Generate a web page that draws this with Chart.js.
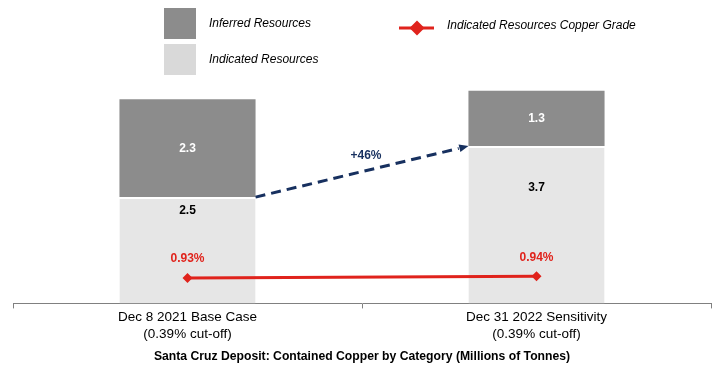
<!DOCTYPE html>
<html>
<head>
<meta charset="utf-8">
<script src="https://cdn.jsdelivr.net/npm/chart.js@4.4.0/dist/chart.umd.min.js"></script>
<style>
  html, body { margin: 0; padding: 0; background: #fff; }
  #wrap { width: 722px; height: 370px; position: relative; }
</style>
</head>
<body>
<div id="wrap"><canvas id="chart"></canvas></div>
<script>
// Datos
const categories = [
    ['Dec 8 2021 Base Case', '(0.39% cut-off)'],
    ['Dec 31 2022 Sensitivity', '(0.39% cut-off)']
];
const indicated = [2.5, 3.7];
const inferred = [2.3, 1.3];
const copperGrade = [0.93, 0.94];
const changeLabel = '+46%';
const chartTitle = 'Santa Cruz Deposit: Contained Copper by Category (Millions of Tonnes)';

const COLOR_INFERRED = '#8c8c8c';
const COLOR_INDICATED = '#e6e6e6';
const COLOR_INDICATED_LEGEND = '#d9d9d9';
const COLOR_GRADE = '#e0231c';
const COLOR_ARROW = '#17305f';
const FONT = 'Arial, "Liberation Sans", sans-serif';

// Desplazamiento de las etiquetas de recursos indicados desde el borde superior
const indicatedLabelOffset = [14, 42];

// Plugin: leyenda, etiquetas y flecha
const overlayPlugin = {
    id: 'overlay',
    afterDatasetsDraw(chart) {
        const ctx = chart.ctx;
        const indMeta = chart.getDatasetMeta(0);
        const infMeta = chart.getDatasetMeta(1);
        const gradeMeta = chart.getDatasetMeta(2);
        ctx.save();

        // Flecha discontinua
        const b0 = indMeta.data[0];
        const b1 = indMeta.data[1];
        const x0 = b0.x + b0.width / 2;
        const y0 = b0.y;
        const x1 = b1.x - b1.width / 2;
        const y1 = b1.y;
        const ang = Math.atan2(y1 - y0, x1 - x0);
        const headLen = 10;
        ctx.strokeStyle = COLOR_ARROW;
        ctx.fillStyle = COLOR_ARROW;
        ctx.lineWidth = 3;
        ctx.setLineDash([10, 6]);
        ctx.beginPath();
        ctx.moveTo(x0, y0);
        ctx.lineTo(x1 - Math.cos(ang) * headLen, y1 - Math.sin(ang) * headLen);
        ctx.stroke();
        ctx.setLineDash([]);
        ctx.beginPath();
        ctx.moveTo(x1, y1);
        ctx.lineTo(x1 - Math.cos(ang - 0.4) * headLen, y1 - Math.sin(ang - 0.4) * headLen);
        ctx.lineTo(x1 - Math.cos(ang + 0.4) * headLen, y1 - Math.sin(ang + 0.4) * headLen);
        ctx.closePath();
        ctx.fill();

        ctx.font = 'bold 12px ' + FONT;
        ctx.textAlign = 'center';
        ctx.textBaseline = 'middle';
        ctx.fillText(changeLabel, (x0 + x1) / 2 + 4, (y0 + y1) / 2 - 16);

        // Etiquetas de barras
        infMeta.data.forEach((bar, i) => {
            ctx.fillStyle = '#ffffff';
            ctx.fillText(inferred[i].toFixed(1), bar.x, (bar.y + bar.base) / 2);
        });
        indMeta.data.forEach((bar, i) => {
            ctx.fillStyle = '#000000';
            ctx.fillText(indicated[i].toFixed(1), bar.x, bar.y + indicatedLabelOffset[i]);
        });
        gradeMeta.data.forEach((pt, i) => {
            ctx.fillStyle = COLOR_GRADE;
            ctx.fillText(copperGrade[i].toFixed(2) + '%', pt.x, pt.y - 19);
        });

        // Leyenda
        ctx.fillStyle = COLOR_INFERRED;
        ctx.fillRect(164, 8, 32, 31);
        ctx.fillStyle = COLOR_INDICATED_LEGEND;
        ctx.fillRect(164, 44, 32, 31);
        ctx.font = 'italic 12px ' + FONT;
        ctx.textAlign = 'left';
        ctx.fillStyle = '#000000';
        ctx.fillText(chart.data.datasets[1].label, 209, 24);
        ctx.fillText(chart.data.datasets[0].label, 209, 60);
        ctx.fillText(chart.data.datasets[2].label, 447, 26);

        ctx.strokeStyle = COLOR_GRADE;
        ctx.lineWidth = 3;
        ctx.beginPath();
        ctx.moveTo(399, 28);
        ctx.lineTo(434, 28);
        ctx.stroke();
        ctx.fillStyle = COLOR_GRADE;
        ctx.beginPath();
        ctx.moveTo(417, 20.5);
        ctx.lineTo(424.5, 28);
        ctx.lineTo(417, 35.5);
        ctx.lineTo(409.5, 28);
        ctx.closePath();
        ctx.fill();

        ctx.restore();
    }
};

new Chart(document.getElementById('chart').getContext('2d'), {
    data: {
        labels: categories,
        datasets: [
            {
                type: 'bar',
                label: 'Indicated Resources',
                data: indicated,
                backgroundColor: COLOR_INDICATED,
                borderColor: '#ffffff',
                borderWidth: { top: 2 },
                borderSkipped: false,
                categoryPercentage: 1,
                barPercentage: 0.39,
                order: 1
            },
            {
                type: 'bar',
                label: 'Inferred Resources',
                data: inferred,
                backgroundColor: COLOR_INFERRED,
                borderWidth: 0,
                categoryPercentage: 1,
                barPercentage: 0.39,
                order: 1
            },
            {
                type: 'line',
                label: 'Indicated Resources Copper Grade',
                data: copperGrade,
                yAxisID: 'y2',
                borderColor: COLOR_GRADE,
                backgroundColor: COLOR_GRADE,
                borderWidth: 3,
                pointStyle: 'rectRot',
                pointRadius: 5,
                pointBorderWidth: 0,
                tension: 0,
                order: 0
            }
        ]
    },
    options: {
        responsive: true,
        maintainAspectRatio: false,
        animation: false,
        layout: { padding: { left: 13, right: 11, top: 10, bottom: 0 } },
        plugins: {
            legend: { display: false },
            tooltip: { enabled: false },
            title: {
                display: true,
                position: 'bottom',
                text: chartTitle,
                color: '#000000',
                font: { family: FONT, size: 12.2, weight: 'bold' },
                padding: { top: 6, bottom: 6 }
            }
        },
        scales: {
            x: {
                stacked: true,
                offset: true,
                border: { display: true, color: '#808080', width: 1 },
                grid: {
                    display: true,
                    offset: true,
                    drawOnChartArea: false,
                    drawTicks: true,
                    tickLength: 5,
                    color: '#808080'
                },
                ticks: {
                    color: '#000000',
                    padding: 1,
                    maxRotation: 0,
                    font: { family: FONT, size: 13.5, lineHeight: 1.22 }
                }
            },
            y: {
                stacked: true,
                display: false,
                min: 0,
                max: 6.9
            },
            y2: {
                display: false,
                min: 0.78,
                max: 2.51
            }
        }
    },
    plugins: [overlayPlugin]
});
</script>
</body>
</html>
